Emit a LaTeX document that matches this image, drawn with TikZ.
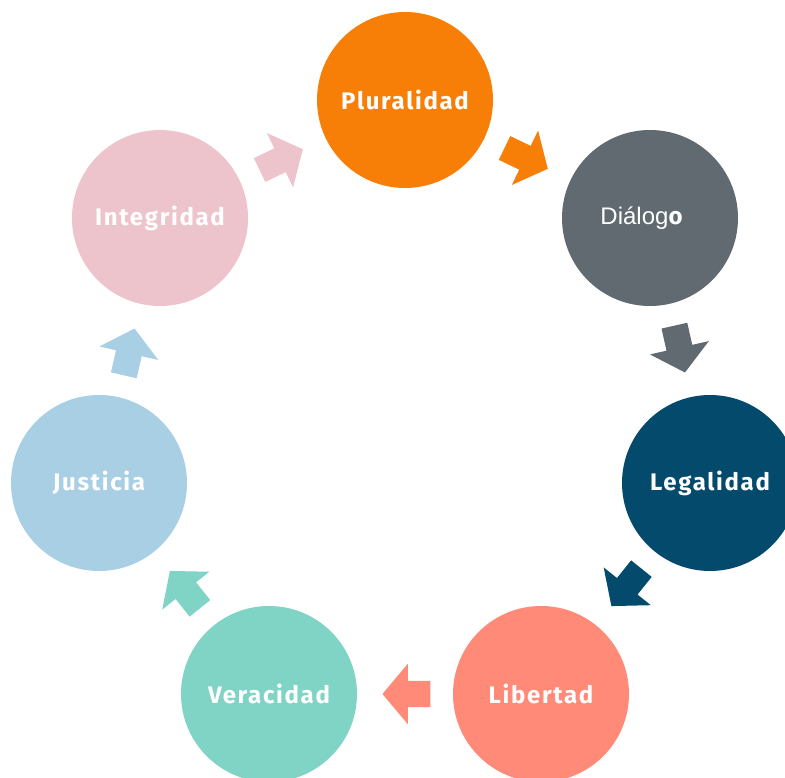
\documentclass[tikz,border=0pt]{standalone}
\usepackage{fontspec}
\newfontfamily\discfont[LetterSpace=7]{Fira Sans}
\newfontfamily\plainfont{Liberation Sans}
\usepackage{tikz}
\definecolor{cplu}{RGB}{247, 127, 7}
\definecolor{cdia}{RGB}{96, 106, 112}
\definecolor{cleg}{RGB}{4, 74, 108}
\definecolor{clib}{RGB}{255, 138, 120}
\definecolor{cver}{RGB}{128, 212, 197}
\definecolor{cjus}{RGB}{169, 207, 229}
\definecolor{cint}{RGB}{237, 196, 203}
\usetikzlibrary{shapes.arrows}

\begin{document}
\begin{tikzpicture}[every node/.style={inner sep=0pt},
  disc/.style={circle, minimum size=176pt, text=white, font=\discfont\bfseries\fontsize{24}{28}\selectfont},
  blk/.style={single arrow, inner xsep=0pt, inner ysep=13pt, minimum height=48pt, single arrow head extend=17pt, single arrow tip angle=100, sloped, allow upside down, xshift=-7pt}]
\clip (0pt, 0pt) rectangle (785pt, -778pt);
\node (1) [disc, fill=cplu] at (405.0pt, -100.0pt) {Pluralidad};
\node (2) [disc, fill=cdia] at (650.0pt, -218.0pt) {{\plainfont\mdseries Diálog}o\kern17pt};
\node (3) [disc, fill=cleg] at (710.0pt, -483.0pt) {Legalidad};
\node (4) [disc, fill=clib] at (541.0pt, -694.0pt) {Libertad};
\node (5) [disc, fill=cver] at (269.0pt, -694.0pt) {Veracidad};
\node (6) [disc, fill=cjus] at (99.0pt, -483.0pt) {Justicia};
\node (7) [disc, fill=cint] at (160.0pt, -218.0pt) {Integridad};
\path (7) -- node (a7) [blk, fill=cint] {} (1);
\path (1) -- node (a1) [blk, fill=cplu] {} (2);
\path (2) -- node (a2) [blk, fill=cdia] {} (3);
\path (3) -- node (a3) [blk, fill=cleg] {} (4);
\path (4) -- node (a4) [blk, fill=clib] {} (5);
\path (5) -- node (a5) [blk, fill=cver] {} (6);
\path (6) -- node (a6) [blk, fill=cjus] {} (7);
\end{tikzpicture}
\end{document}
